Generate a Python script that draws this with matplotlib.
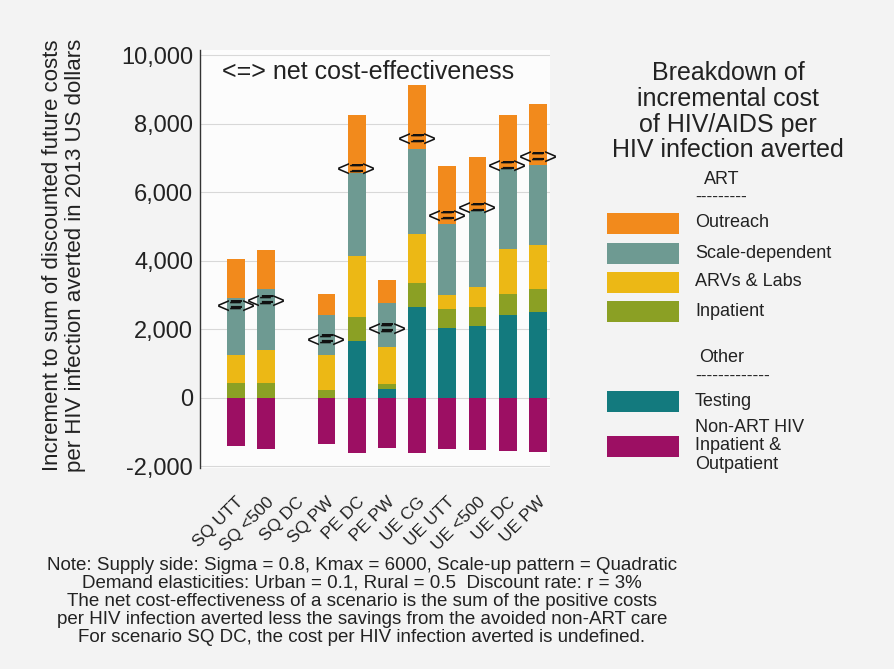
import matplotlib.pyplot as plt
import numpy as np
from matplotlib.patches import Rectangle
from matplotlib.ticker import FuncFormatter

plt.rcParams['font.family'] = ['Liberation Sans', 'DejaVu Sans']
plt.rcParams['axes.unicode_minus'] = False

scenarios = ['SQ UTT', 'SQ <500', 'SQ DC', 'SQ PW', 'PE DC', 'PE PW',
             'UE CG', 'UE UTT', 'UE <500', 'UE DC', 'UE PW']
# SQ DC: cost per infection averted undefined -> no bar
has_value = [True, True, False, True, True, True, True, True, True, True, True]

testing = [0, 0, 0, 0, 1660, 260, 2660, 2030, 2080, 2420, 2490]
inpatient = [435, 435, 0, 230, 705, 145, 676, 550, 560, 609, 696]
arvs = [821, 965, 0, 1016, 1787, 1091, 1449, 416, 580, 1304, 1275]
scale_dep = [1642, 1788, 0, 1159, 2415, 1256, 2463, 2077, 2241, 2337, 2319]
outreach = [1159, 1112, 0, 609, 1691, 696, 1884, 1690, 1574, 1595, 1787]
non_art = [-1400, -1497, 0, -1352, -1623, -1468, -1623, -1497, -1526, -1546, -1575]

colors = {
    'Outreach': '#f28a1c',
    'Scale-dependent': '#6e9a92',
    'ARVs & Labs': '#ecb815',
    'Inpatient': '#8ba024',
    'Testing': '#137a7e',
    'Non-ART': '#9c0f63',
}

W, H = 894, 669


def fx(px):
    return px / W


def fy(py):
    return 1 - py / H


fig = plt.figure(figsize=(W / 100, H / 100), dpi=100, facecolor='#f3f3f3')
ax = fig.add_axes([fx(200), fy(468), 350 / W, 418 / H])
ax.set_facecolor('#fcfcfc')

x = np.arange(len(scenarios))
bw = 0.59
bottom = np.zeros(len(x))
stack = [(testing, 'Testing'), (inpatient, 'Inpatient'), (arvs, 'ARVs & Labs'),
         (scale_dep, 'Scale-dependent'), (outreach, 'Outreach')]
for vals, name in stack:
    ax.bar(x, vals, bw, bottom=bottom, color=colors[name], lw=0)
    bottom += np.array(vals)
ax.bar(x, non_art, bw, color=colors['Non-ART'], lw=0)

# net cost-effectiveness = positive costs less non-ART savings
net = bottom + np.array(non_art)
for i in x:
    if has_value[i]:
        ax.text(i, net[i], '<=>', ha='center', va='center', fontsize=16, color='#111111')
        ax.text(i, net[i], '=', ha='center', va='center', fontsize=16,
                fontweight='bold', color='#111111')

ax.set_xlim(-1.19, 10.4)
ax.set_ylim(-2050, 10150)
ax.set_yticks(range(-2000, 10001, 2000))
ax.yaxis.set_major_formatter(FuncFormatter(lambda v, p: f'{v:,.0f}'))
ax.tick_params(axis='y', length=0, pad=5, labelsize=17, labelcolor='#222222')
ax.set_xticks(x, scenarios)
ax.tick_params(axis='x', length=0, pad=19, labelsize=12.5, labelcolor='#222222')
plt.setp(ax.get_xticklabels(), rotation=45, ha='right', rotation_mode='anchor')

ax.set_axisbelow(True)
ax.yaxis.grid(True, color='#d8d8d8', lw=0.8)
for s in ['top', 'right', 'bottom']:
    ax.spines[s].set_visible(False)
ax.spines['left'].set_color('#333333')
ax.spines['left'].set_linewidth(1.0)

fig.text(fx(64), fy(255),
         'Increment to sum of discounted future costs\nper HIV infection averted in 2013 US dollars',
         rotation=90, ha='center', va='center', fontsize=16, color='#222222',
         multialignment='center', linespacing=1.1)

fig.text(fx(222), fy(72), '<=> net cost-effectiveness', fontsize=18,
         va='center', ha='left', color='#222222')

# legend (drawn by hand to follow the layout)
title_lines = ['Breakdown of', 'incremental cost', 'of HIV/AIDS per', 'HIV infection averted']
for line, py in zip(title_lines, [73, 99, 125, 150]):
    fig.text(fx(728), fy(py), line, ha='center', va='center', fontsize=18, color='#222222')

fig.text(fx(722), fy(180), 'ART', ha='center', va='center', fontsize=13, color='#222222')
fig.text(fx(695), fy(197), '-' * 9, ha='left', va='center', fontsize=12.5, color='#222222')
fig.text(fx(722), fy(357), 'Other', ha='center', va='center', fontsize=13, color='#222222')
fig.text(fx(695), fy(376), '-' * 13, ha='left', va='center', fontsize=12.5, color='#222222')

legend_items = [('Outreach', ['Outreach'], 223), ('Scale-dependent', ['Scale-dependent'], 253),
                ('ARVs & Labs', ['ARVs & Labs'], 282), ('Inpatient', ['Inpatient'], 312),
                ('Testing', ['Testing'], 401),
                ('Non-ART', ['Non-ART HIV', 'Inpatient &', 'Outpatient'], 446)]
for key, label_lines, py in legend_items:
    fig.add_artist(Rectangle((fx(607), fy(py + 10.5)), 72 / W, 21 / H,
                             transform=fig.transFigure, color=colors[key], lw=0))
    n = len(label_lines)
    for k, line in enumerate(label_lines):
        ly = py + (k - (n - 1) / 2) * 18.5
        fig.text(fx(695), fy(ly), line, ha='left', va='center', fontsize=13,
                 color='#222222')

note_lines = [
    'Note: Supply side: Sigma = 0.8, Kmax = 6000, Scale-up pattern = Quadratic',
    'Demand elasticities: Urban = 0.1, Rural = 0.5  Discount rate: r = 3%',
    'The net cost-effectiveness of a scenario is the sum of the positive costs',
    'per HIV infection averted less the savings from the avoided non-ART care',
    'For scenario SQ DC, the cost per HIV infection averted is undefined.',
]
for line, py in zip(note_lines, [565, 583, 601, 620, 638]):
    fig.text(fx(362), fy(py), line, ha='center', va='center', fontsize=13.5, color='#222222')

fig.savefig('out.png', dpi=100, facecolor=fig.get_facecolor())
